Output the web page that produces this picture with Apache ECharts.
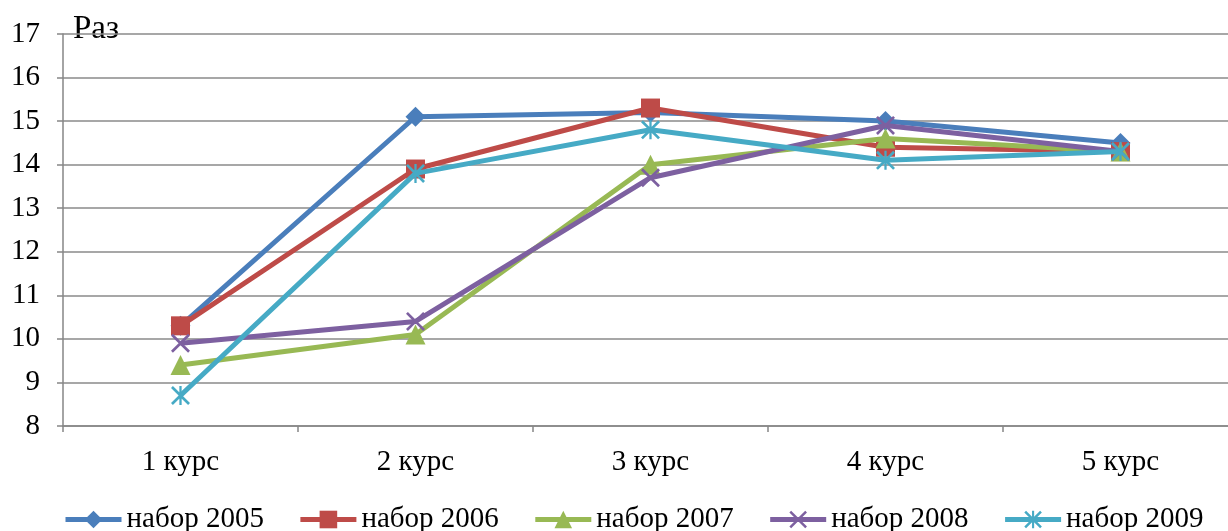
<!DOCTYPE html>
<html>
<head>
<meta charset="utf-8">
<script src="https://cdn.jsdelivr.net/npm/echarts@6/dist/echarts.min.js"></script>
<style>
  html, body { margin: 0; padding: 0; background: #fff; }
  #chart { width: 1228px; height: 531px; }
</style>
</head>
<body>
<div id="chart"></div>
<script>
// Courses on the x axis
const categories = ['1 курс', '2 курс', '3 курс', '4 курс', '5 курс'];

// One series per intake year (values in "раз")
const nabor2005 = [10.3, 15.1, 15.2, 15.0, 14.5];
const nabor2006 = [10.3, 13.9, 15.3, 14.4, 14.3];
const nabor2007 = [9.4, 10.1, 14.0, 14.6, 14.3];
const nabor2008 = [9.9, 10.4, 13.7, 14.9, 14.3];
const nabor2009 = [8.7, 13.8, 14.8, 14.1, 14.3];

const seriesNames = ['набор 2005', 'набор 2006', 'набор 2007', 'набор 2008', 'набор 2009'];
const seriesData = [nabor2005, nabor2006, nabor2007, nabor2008, nabor2009];
const colors = ['#4A7EBB', '#BE4B48', '#98B954', '#7D60A0', '#46AAC5'];

// Marker shapes: diamond, square, triangle, thin "x", asterisk
const xPath = 'path://M0,1L1,0L5,4L9,0L10,1L6,5L10,9L9,10L5,6L1,10L0,9L4,5Z';
const starPath = 'path://M0,1L1,0L5,4L9,0L10,1L6,5L10,9L9,10L5,6L1,10L0,9L4,5Z M4.4,0L5.6,0L5.6,10L4.4,10Z';
const symbols = ['diamond', 'rect', 'triangle', xPath, starPath];
const symbolSizes = [20, 19, 20, 19, 19];

const font = '"Liberation Serif", "Times New Roman", serif';

const chart = echarts.init(document.getElementById('chart'), null, { renderer: 'canvas' });

chart.setOption({
  animation: false,
  color: colors,
  graphic: [{
    type: 'text',
    left: 73,
    top: 13,
    style: { text: 'Раз', fontFamily: font, fontSize: 33, fill: '#000' }
  }],
  // the plot area runs past the right edge of the canvas
  grid: { left: 63, width: 1175, top: 34, bottom: 105, containLabel: false, outerBoundsMode: 'none' },
  legend: {
    top: 500,
    left: 58,
    itemWidth: 56,
    itemHeight: 22,
    itemGap: 34,
    lineStyle: { width: 5 },
    textStyle: { fontFamily: font, fontSize: 29, color: '#000' },
    data: seriesNames
  },
  xAxis: {
    type: 'category',
    data: categories,
    boundaryGap: true,
    axisLine: { lineStyle: { color: '#868686', width: 1.5 } },
    axisTick: { show: true, length: 6, lineStyle: { color: '#868686', width: 1.5 } },
    axisLabel: { fontFamily: font, fontSize: 29, color: '#000', margin: 22 },
    splitLine: { show: false }
  },
  yAxis: {
    type: 'value',
    min: 8,
    max: 17,
    interval: 1,
    axisLine: { show: true, lineStyle: { color: '#868686', width: 1.5 } },
    axisTick: { show: true, length: 6, lineStyle: { color: '#868686', width: 1.5 } },
    axisLabel: { fontFamily: font, fontSize: 29, color: '#000', margin: 23 },
    splitLine: { show: true, lineStyle: { color: '#8a8a8a', width: 1.5 } }
  },
  series: seriesNames.map((name, i) => ({
    name: name,
    type: 'line',
    data: seriesData[i],
    symbol: symbols[i],
    symbolSize: symbolSizes[i],
    showAllSymbol: true,
    lineStyle: { width: 5, color: colors[i] },
    itemStyle: { color: colors[i] },
    z: 2 + i
  }))
});
</script>
</body>
</html>
